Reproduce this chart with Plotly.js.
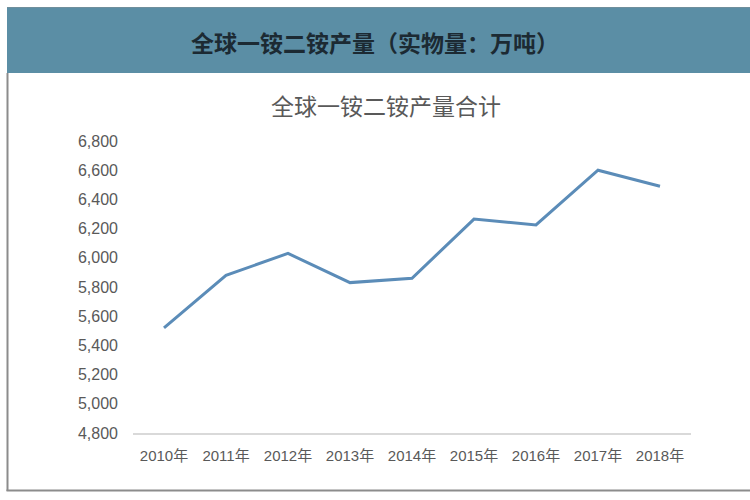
<!DOCTYPE html>
<html>
<head>
<meta charset="utf-8">
<script src="https://cdn.plot.ly/plotly-3.0.1.min.js"></script>
<style>
  html, body { margin: 0; padding: 0; background: #ffffff; }
  #chart { width: 750px; height: 500px; }
</style>
</head>
<body>
<div id="chart"></div>
<script>
// ---- data ----
const years = ["2010年", "2011年", "2012年", "2013年", "2014年", "2015年", "2016年", "2017年", "2018年"];
const production = [5520, 5880, 6030, 5830, 5860, 6265, 6225, 6600, 6490];
const yTickValues = [4800, 5000, 5200, 5400, 5600, 5800, 6000, 6200, 6400, 6600, 6800];
const mainTitle = "全球一铵二铵产量（实物量：万吨）";
const subTitle = "全球一铵二铵产量合计";

// ---- layout geometry ----
const W = 750, H = 500;
const M = { l: 133, r: 59, t: 141, b: 67 };
const pw = W - M.l - M.r, ph = H - M.t - M.b;
const xp = px => (px - M.l) / pw;
const yp = py => (H - M.b - py) / ph;

const cjk = '"Noto Sans CJK SC", "Noto Sans", sans-serif';
const latin = '"Liberation Sans", Arial, "Noto Sans CJK SC", sans-serif';

const trace = {
  type: "scatter",
  mode: "lines",
  x: years,
  y: production,
  line: { color: "#5b8cb8", width: 3 },
  hoverinfo: "x+y"
};

const layout = {
  width: W, height: H,
  margin: M,
  paper_bgcolor: "#ffffff",
  plot_bgcolor: "#ffffff",
  showlegend: false,
  xaxis: {
    type: "category",
    range: [-0.5, years.length - 0.5],
    showgrid: false,
    zeroline: false,
    showline: true,
    linecolor: "#d9d9d9",
    linewidth: 1.5,
    ticks: "",
    ticklabelstandoff: 8,
    tickfont: { family: latin, size: 15, color: "#595959" },
    fixedrange: true
  },
  yaxis: {
    range: [4800, 6800],
    tickvals: yTickValues,
    tickformat: ",d",
    showgrid: false,
    zeroline: false,
    showline: false,
    ticks: "",
    ticklabelstandoff: 14,
    tickfont: { family: latin, size: 16, color: "#595959" },
    fixedrange: true
  },
  shapes: [
    { type: "rect", xref: "paper", yref: "paper",
      x0: xp(7), x1: xp(752), y0: yp(73), y1: yp(7),
      fillcolor: "#5b8ea5", line: { width: 0 } },
    { type: "line", xref: "paper", yref: "paper",
      x0: xp(7), x1: xp(752), y0: yp(7.5), y1: yp(7.5),
      line: { color: "#6f8f9c", width: 1 } },
    { type: "line", xref: "paper", yref: "paper",
      x0: xp(7.5), x1: xp(7.5), y0: yp(73), y1: yp(491),
      line: { color: "#8c8c8c", width: 2 } },
    { type: "line", xref: "paper", yref: "paper",
      x0: xp(6.5), x1: xp(752), y0: yp(490.5), y1: yp(490.5),
      line: { color: "#8c8c8c", width: 2 } }
  ],
  annotations: [
    { text: "<b>" + mainTitle + "</b>", xref: "paper", yref: "paper",
      x: xp(375), y: yp(42), xanchor: "center", yanchor: "middle",
      showarrow: false, font: { family: cjk, size: 23, color: "#1c2a33" } },
    { text: subTitle, xref: "paper", yref: "paper",
      x: xp(386), y: yp(105), xanchor: "center", yanchor: "middle",
      showarrow: false, font: { family: cjk, size: 23, color: "#595959" } }
  ]
};

Plotly.newPlot("chart", [trace], layout, { displayModeBar: false, staticPlot: true });
</script>
</body>
</html>
